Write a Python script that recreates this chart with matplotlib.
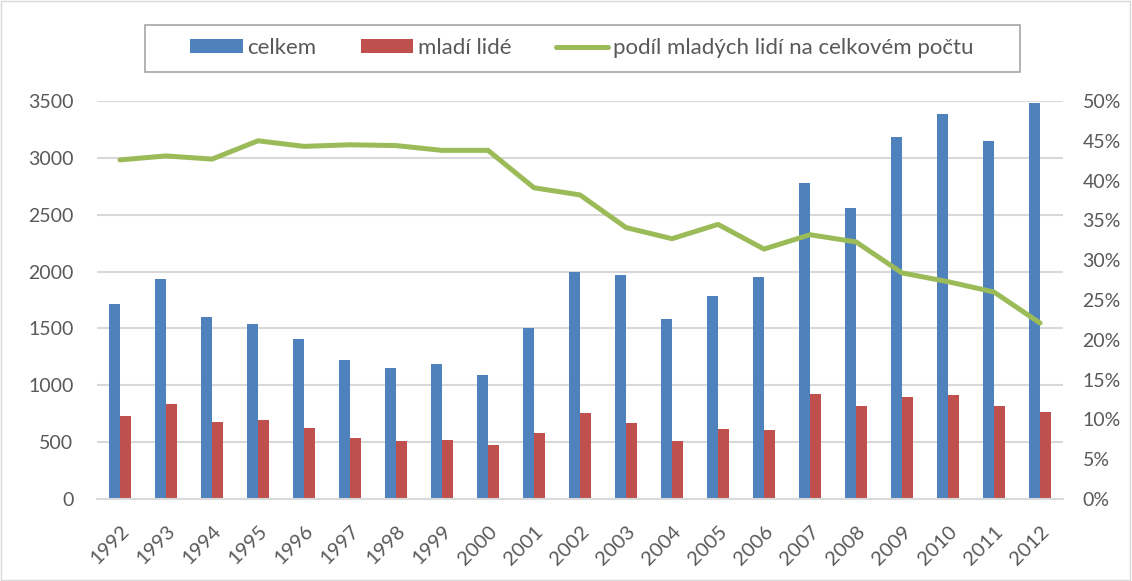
import matplotlib.pyplot as plt
import matplotlib.transforms as mtransforms
import numpy as np
from matplotlib.ticker import FuncFormatter

plt.rcParams['font.family'] = ['Lato', 'DejaVu Sans']

years = [str(y) for y in range(1992, 2013)]
celkem = [1719, 1933, 1600, 1542, 1410, 1222, 1156, 1186, 1090, 1503,
          1992, 1972, 1580, 1784, 1955, 2780, 2557, 3180, 3389, 3149, 3482]
mladi = [730, 835, 680, 692, 625, 540, 510, 520, 472, 584,
         760, 672, 514, 619, 607, 924, 821, 900, 918, 815, 765]
podil = [42.6, 43.1, 42.7, 45.0, 44.3, 44.5, 44.4, 43.8, 43.8, 39.1,
         38.2, 34.1, 32.7, 34.5, 31.4, 33.2, 32.3, 28.4, 27.3, 26.0, 22.1]

blue = '#4F81BD'
red = '#C0504D'
green = '#9BBB59'
txt = '#595959'
grid = '#D9D9D9'

W, H = 1132, 581
fig = plt.figure(figsize=(W / 100, H / 100), dpi=100)
ax = fig.add_axes([97 / W, 1 - 499 / H, 966 / W, 398 / H])
ax2 = ax.twinx()

x = np.arange(len(years))
w = 0.232
b1 = ax.bar(x - w / 2, celkem, w, color=blue, zorder=2, label='celkem')
b2 = ax.bar(x + w / 2, mladi, w, color=red, zorder=2, label='mladí lidé')
ln, = ax2.plot(x, podil, color=green, lw=3.6, solid_capstyle='round',
               label='podíl mladých lidí na celkovém počtu')

ax.set_xlim(-0.5, len(years) - 0.5)
ax.set_ylim(0, 3500)
ax.set_yticks(range(0, 3501, 500))
ax2.set_ylim(0, 50)
ax2.set_yticks(range(0, 51, 5))
ax2.yaxis.set_major_formatter(FuncFormatter(lambda v, p: f'{int(v)}%'))

ax.set_xticks(x)
ax.set_xticklabels(years, rotation=45, ha='right', va='top',
                   rotation_mode='anchor', fontsize=14.5)
shift = mtransforms.ScaledTranslation(5 / 100, 0, fig.dpi_scale_trans)
for lab in ax.get_xticklabels():
    lab.set_transform(lab.get_transform() + shift)

ax.yaxis.grid(True, color=grid, lw=1.5, zorder=0)
ax.set_axisbelow(True)

for a in (ax, ax2):
    for s in a.spines.values():
        s.set_visible(False)
    a.tick_params(length=0, colors=txt, labelsize=14)
ax.spines['bottom'].set_visible(True)
ax.spines['bottom'].set_color(grid)
ax.spines['bottom'].set_linewidth(1.5)
ax.tick_params(axis='y', pad=17)
ax.tick_params(axis='x', pad=17, labelsize=14.5)
ax2.tick_params(axis='y', pad=14)

leg = fig.legend([b1, b2, ln], [b1.get_label(), b2.get_label(), ln.get_label()],
                 loc='center', bbox_to_anchor=(582 / W, 1 - 48 / H),
                 ncol=3, frameon=False, fontsize=16,
                 handlelength=2.35, handleheight=0.6, columnspacing=2.0,
                 handletextpad=0.22)
for t in leg.get_texts():
    t.set_color(txt)

# legend box and outer chart border
fig.patches.append(plt.Rectangle((145 / W, 1 - 72 / H), 875 / W, 47 / H,
                                 transform=fig.transFigure, fill=False,
                                 edgecolor='#A6A6A6', lw=1.2))
fig.patches.append(plt.Rectangle((0.001, 0.001), 0.997, 0.997, transform=fig.transFigure,
                                 fill=False, edgecolor='#D9D9D9', lw=1))

fig.savefig('out.png', dpi=100)
